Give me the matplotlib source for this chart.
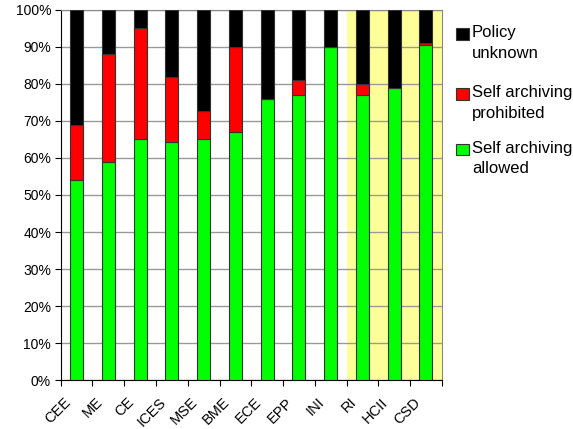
import numpy as np
import matplotlib
matplotlib.use("Agg")
import matplotlib.pyplot as plt
from matplotlib.patches import Rectangle
from matplotlib.ticker import FixedLocator, PercentFormatter
from matplotlib.transforms import ScaledTranslation

plt.rcParams['font.family'] = ['Liberation Sans', 'DejaVu Sans']

departments = ['CEE', 'ME', 'CE', 'ICES', 'MSE', 'BME', 'ECE', 'EPP', 'INI', 'RI', 'HCII', 'CSD']
allowed = np.array([54, 59, 65, 64.2, 65, 67, 76, 77, 90, 77, 79, 90.4])
prohibited = np.array([15, 29, 30, 17.8, 7.7, 23, 0, 4, 0, 3, 0, 0.6])
unknown = 100 - allowed - prohibited
highlighted = ['RI', 'HCII', 'CSD']

green = '#00ff00'
red = '#ff0000'
black = '#000000'
edge = '#333333'

fig = plt.figure(figsize=(5.73, 4.29), dpi=100)
ax = fig.add_axes([0.106, 0.114, 0.665, 0.863])

x = np.arange(len(departments))
first_hl = departments.index(highlighted[0])
ax.axvspan(first_hl - 0.5, len(departments) - 0.5, color='#ffff99', zorder=0, lw=0)

ax.set_ylim(0, 100)
ax.set_xlim(-0.5, len(departments) - 0.5)
ax.yaxis.set_major_locator(FixedLocator(np.arange(0, 101, 10)))
ax.yaxis.set_major_formatter(PercentFormatter(decimals=0))
ax.grid(axis='y', color='#999999', lw=1, zorder=1)
ax.set_axisbelow(True)

w = 0.41
ax.bar(x, allowed, w, color=green, edgecolor=edge, lw=0.8, zorder=3)
ax.bar(x, prohibited, w, bottom=allowed, color=red, edgecolor=edge, lw=0.8, zorder=3)
ax.bar(x, unknown, w, bottom=allowed + prohibited, color=black, edgecolor=edge, lw=0.8, zorder=3)

# boundary ticks between categories, names placed as slanted text below
ax.set_xticks(np.arange(-0.5, len(departments)))
ax.set_xticklabels([])
ax.tick_params(axis='x', length=4, direction='out', color='black')
ax.tick_params(axis='y', length=4, direction='out', labelsize=10, pad=3)
label_tf = ax.get_xaxis_transform() + ScaledTranslation(-0.13, -0.15, fig.dpi_scale_trans)
for xi, name in zip(x, departments):
    ax.text(xi, 0, name, transform=label_tf, rotation=45, ha='right', va='top',
            rotation_mode='anchor', fontsize=10.5)

for side in ['top', 'right']:
    ax.spines[side].set_color('#888888')
ax.spines['left'].set_color('black')
ax.spines['bottom'].set_color('black')

# legend drawn by hand so each square lines up with the first text line
entries = [('Policy\nunknown', black), ('Self archiving\nprohibited', red), ('Self archiving\nallowed', green)]
tops = [28.5, 88.5, 144]
for (label, color), top in zip(entries, tops):
    fig.add_artist(Rectangle((456 / 573, 1 - (top + 11) / 429), 12.5 / 573, 11 / 429,
                             transform=fig.transFigure, facecolor=color, edgecolor=edge, lw=0.8))
    fig.text(472 / 573, 1 - (top - 3) / 429, label, ha='left', va='top', fontsize=12, linespacing=1.42)

fig.savefig('out.png', dpi=100)
